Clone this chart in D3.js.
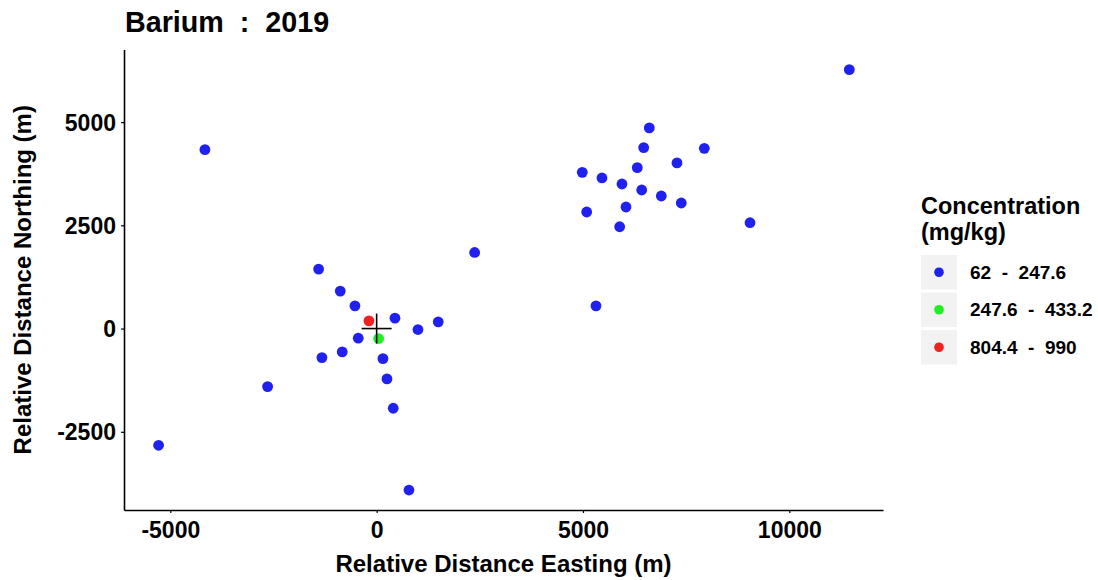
<!DOCTYPE html>
<html>
<head>
<meta charset="utf-8">
<script src="https://cdn.jsdelivr.net/npm/d3@7/dist/d3.min.js"></script>
<style>
  html, body { margin: 0; padding: 0; background: #fff; }
  svg { display: block; font-family: "Liberation Sans", Arial, sans-serif; }
  text { white-space: pre; fill: #000; }
</style>
</head>
<body>
<svg id="chart" width="1098" height="580"></svg>
<script>
// Sample locations relative to the source (metres) and concentration class
const eastings  = [11454, -4161, 6607, 6471, 7940, 7278, 6316, 4983, 5460, 5945, 6423, 6898, 7382, 6042, 5090, 9048, 5889,
                   2375, -1406, -882, -526, 5315, -187, 444, 1493, 1001, -446, 48, -834, -1326, 153, 250, -2642, 402, -5284, 783];
const northings = [6271, 4333, 4859, 4382, 4365, 4011, 3897, 3783, 3647, 3501, 3356, 3210, 3041, 2944, 2823, 2563, 2466,
                   1843, 1440, 907, 550, 550, 187, 252, 162, -24, -233, -242, -565, -703, -727, -1220, -1406, -1930, -2827, -3911];
const classes   = [0, 0, 0, 0, 0, 0, 0, 0, 0, 0, 0, 0, 0, 0, 0, 0, 0,
                   0, 0, 0, 0, 0, 2, 0, 0, 0, 0, 1, 0, 0, 0, 0, 0, 0, 0, 0];

const legendLabels = ["62  -  247.6", "247.6  -  433.2", "804.4  -  990"];
const classColors  = ["#2121EF", "#21EF21", "#EF2121"];
const xTicks = [-5000, 0, 5000, 10000];
const yTicks = [-2500, 0, 2500, 5000];

const svg = d3.select("#chart");

const panel = { left: 124, right: 883, top: 49.5, bottom: 510 };

// Equal-aspect scales (same metres-per-pixel on both axes)
const x = d3.scaleLinear().domain([-6122, 12270]).range([panel.left, panel.right]);
const y = d3.scaleLinear().domain([-4394, 6758]).range([panel.bottom, panel.top]);

const plain = d => String(d);

// Axes
const xAxis = svg.append("g")
  .attr("transform", `translate(0,${panel.bottom})`)
  .call(d3.axisBottom(x).tickValues(xTicks).tickFormat(plain).tickSizeInner(3).tickSizeOuter(0).tickPadding(9));
const yAxis = svg.append("g")
  .attr("transform", `translate(${panel.left},0)`)
  .call(d3.axisLeft(y).tickValues(yTicks).tickFormat(plain).tickSizeInner(3).tickSizeOuter(0).tickPadding(5));

[xAxis, yAxis].forEach(g => {
  g.select(".domain").attr("stroke", "#000").attr("stroke-width", 1.6);
  g.selectAll(".tick line").attr("stroke", "#000").attr("stroke-width", 1.2);
  g.selectAll(".tick text")
    .attr("fill", "#000")
    .style("font-family", "'Liberation Sans', Arial, sans-serif")
    .style("font-weight", "bold")
    .style("font-size", "23px");
});
xAxis.selectAll(".tick text").attr("dy", "0.71em");
yAxis.selectAll(".tick text").attr("dy", "0.35em");

// Points (default class drawn first so highlighted classes sit on top)
const pts = eastings.map((e, i) => ({ e, n: northings[i], c: classes[i] }))
  .sort((a, b) => a.c - b.c);

svg.append("g").selectAll("circle")
  .data(pts)
  .enter().append("circle")
  .attr("cx", d => x(d.e))
  .attr("cy", d => y(d.n))
  .attr("r", 5.4)
  .attr("fill", d => classColors[d.c]);

// Source location marker
const cross = svg.append("g").attr("stroke", "#000").attr("stroke-width", 1.6);
cross.append("line").attr("x1", x(0) - 15).attr("x2", x(0) + 15).attr("y1", y(0)).attr("y2", y(0));
cross.append("line").attr("x1", x(0)).attr("x2", x(0)).attr("y1", y(0) - 15).attr("y2", y(0) + 15);

// Title
svg.append("text")
  .attr("x", 125).attr("y", 31.5)
  .style("font-weight", "bold").style("font-size", "28.7px")
  .text("Barium  :  2019");

// Axis titles
svg.append("text")
  .attr("x", (panel.left + panel.right) / 2).attr("y", 572)
  .attr("text-anchor", "middle")
  .style("font-weight", "bold").style("font-size", "24px")
  .text("Relative Distance Easting (m)");

svg.append("text")
  .attr("transform", `translate(31,${(panel.top + panel.bottom) / 2}) rotate(-90)`)
  .attr("text-anchor", "middle")
  .style("font-weight", "bold").style("font-size", "24px")
  .text("Relative Distance Northing (m)");

// Legend
const legend = svg.append("g").attr("transform", "translate(921,0)");
legend.append("text").attr("x", 0).attr("y", 213.5)
  .style("font-weight", "bold").style("font-size", "23.5px").text("Concentration");
legend.append("text").attr("x", 0).attr("y", 239.5)
  .style("font-weight", "bold").style("font-size", "23.5px").text("(mg/kg)");

const keyH = 34.5, keyStep = 37.5, keyTop = 255;
const items = legend.selectAll("g.key").data(legendLabels).enter().append("g")
  .attr("class", "key")
  .attr("transform", (d, i) => `translate(0,${keyTop + i * keyStep})`);
items.append("rect").attr("width", 36).attr("height", keyH).attr("fill", "#F2F2F2");
items.append("circle").attr("cx", 18).attr("cy", keyH / 2).attr("r", 4.8)
  .attr("fill", (d, i) => classColors[i]);
items.append("text").attr("x", 49).attr("y", keyH / 2).attr("dy", "0.35em")
  .style("font-weight", "bold").style("font-size", "19px").text(d => d);
</script>
</body>
</html>
